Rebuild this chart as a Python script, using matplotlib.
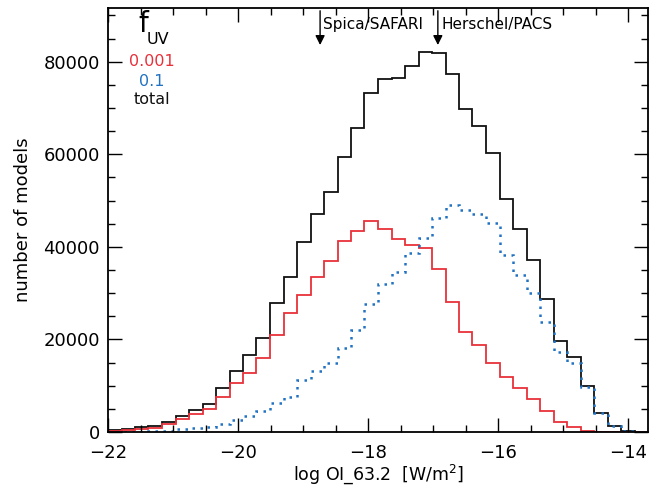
import numpy as np
import matplotlib
matplotlib.use("Agg")
import matplotlib.pyplot as plt
from matplotlib.ticker import MultipleLocator

# ---- data (40 bins from -22 to -13.7) ----
bin_lo = -22.0
bin_hi = -13.7
n_bins = 40

total = [500, 700, 1000, 1300, 2200, 3500, 4700, 6100, 9400, 13200,
         16600, 20400, 27900, 33400, 41000, 47000, 51900, 59500, 65600, 73300,
         76200, 76500, 79100, 82000, 81800, 77300, 69700, 66200, 60200, 50300,
         43800, 37200, 28700, 19700, 16100, 9900, 4200, 1400, 300, 100]

fuv_001 = [250, 500, 700, 900, 1800, 2900, 3800, 5000, 7500, 10500,
           12800, 15900, 21000, 25800, 29500, 33400, 37000, 41300, 43500, 45600,
           43800, 41800, 40300, 39700, 35300, 28100, 21500, 18800, 14800, 11800,
           9600, 7100, 4600, 2200, 1000, 250, 80, 50, 20, 10]

fuv_01 = [30, 50, 80, 120, 300, 600, 850, 1100, 1700, 2500,
          3500, 4600, 6200, 7600, 11200, 13200, 15000, 18100, 22000, 27600,
          31900, 34500, 38600, 42000, 46300, 49000, 48000, 47200, 45200, 38200,
          33900, 30000, 23800, 17300, 14800, 9650, 4200, 1350, 300, 100]

instr_names = ["Spica/SAFARI", "Herschel/PACS"]
instr_limits = [-18.74, -16.93]

legend_labels = ["0.001", "0.1", "total"]

RED = "#e8303a"
BLUE = "#2272c3"
BLACK = "#111111"

edges = np.linspace(bin_lo, bin_hi, n_bins + 1)

W, H = 670, 491
fig = plt.figure(figsize=(W / 100, H / 100), dpi=100)
ax = fig.add_axes([108 / W, 1 - 432 / H, (648 - 108) / W, (432 - 8) / H])

ax.stairs(total, edges, color=BLACK, lw=1.3)
ax.stairs(fuv_001, edges, color=RED, lw=1.3)
ax.stairs(fuv_01, edges, color=BLUE, lw=1.8, linestyle=(0, (1, 2.2)))

ax.set_xlim(bin_lo, bin_hi)
ax.set_ylim(0, 91600)

ax.xaxis.set_major_locator(MultipleLocator(2))
ax.xaxis.set_minor_locator(MultipleLocator(0.5))
ax.yaxis.set_major_locator(MultipleLocator(20000))
ax.yaxis.set_minor_locator(MultipleLocator(5000))
ax.tick_params(which="both", direction="in", top=True, right=True,
               labelsize=13, color="black", width=1.0)
ax.tick_params(which="major", length=10)
ax.tick_params(which="minor", length=5)
ax.tick_params(axis="x", which="major", pad=9)
ax.tick_params(axis="y", which="major", pad=6)
for s in ax.spines.values():
    s.set_linewidth(1.3)

ax.set_xticklabels([f"\u2212{abs(int(v))}" for v in ax.get_xticks()])

ax.set_xlabel("log OI_63.2  [W/m$^2$]", fontsize=12.5, labelpad=0)
ax.set_ylabel("number of models", fontsize=13, labelpad=8)

# instrument arrows
for name, xv in zip(instr_names, instr_limits):
    ax.annotate("", xy=(xv, 83600), xytext=(xv, 91000),
                arrowprops=dict(arrowstyle="-|>", color="black", lw=1.0,
                                mutation_scale=14, shrinkA=0, shrinkB=0))
    ax.text(xv + 0.05, 88000, name, fontsize=11, ha="left", va="center")

# legend text
fig.text(143 / W, 1 - 24 / H, "f", fontsize=20, ha="center", va="center")
fig.text(158 / W, 1 - 39 / H, "UV", fontsize=11.5, ha="center", va="center")
for lab, col, yp in zip(legend_labels, [RED, BLUE, BLACK], [62, 81, 100]):
    fig.text(152 / W, 1 - yp / H, lab, fontsize=11.5, color=col,
             ha="center", va="center")

fig.savefig("out.png", dpi=100)
